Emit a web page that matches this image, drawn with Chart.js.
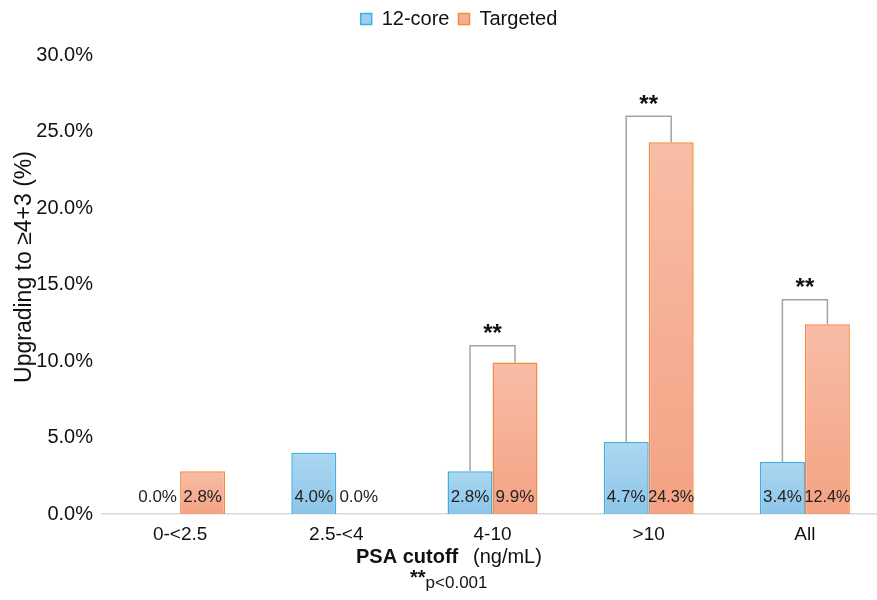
<!DOCTYPE html>
<html lang="en">
<head>
<meta charset="UTF-8">
<title>Upgrading by PSA cutoff</title>
<script src="https://cdn.jsdelivr.net/npm/chart.js"></script>
<style>
  body { margin: 0; background: #fff; overflow: hidden; }
  #wrap { width: 883px; height: 600px; }
</style>
</head>
<body>
<div id="wrap"><canvas id="bar-chart"></canvas></div>
<script>
  // data
  const categories = ['0-<2.5', '2.5-<4', '4-10', '>10', 'All'];
  const core12 = [0.0, 4.0, 2.8, 4.7, 3.4];
  const targeted = [2.8, 0.0, 9.9, 24.3, 12.4];
  // significance brackets: category index and bracket height (%)
  const bracketCats = [2, 3, 4];
  const bracketTops = [11.0, 26.0, 14.0];
  const yTicks = [0, 5, 10, 15, 20, 25, 30];

  const FONT = '"Liberation Sans", Arial, Helvetica, sans-serif';

  // vertical gradient over each bar
  function gradient(ctx, top, bottom) {
    const chart = ctx.chart;
    const y = chart.scales.y;
    if (!chart.chartArea || !y || ctx.raw === undefined) return bottom;
    const yTop = y.getPixelForValue(ctx.raw);
    const yBot = y.getPixelForValue(0);
    if (yBot - yTop < 1) return bottom;
    const g = chart.ctx.createLinearGradient(0, yTop, 0, yBot);
    g.addColorStop(0, top);
    g.addColorStop(1, bottom);
    return g;
  }

  const extras = {
    id: 'extras',
    beforeLayout(chart) {
      // reserve a fixed band for the legend above the plot
      const lg = chart.legend;
      if (lg && !lg._tall) {
        const fit = lg.fit;
        lg.fit = function () { fit.call(this); this.height = 55; };
        lg._tall = true;
      }
    },
    afterDatasetsDraw(chart) {
      const ctx = chart.ctx;
      const y = chart.scales.y;
      const m0 = chart.getDatasetMeta(0).data;
      const m1 = chart.getDatasetMeta(1).data;

      // value labels at the bottom of each bar
      ctx.save();
      ctx.fillStyle = '#222';
      ctx.font = '17px ' + FONT;
      ctx.textAlign = 'center';
      ctx.textBaseline = 'middle';
      [[m0, core12], [m1, targeted]].forEach(([bars, vals]) => {
        bars.forEach((b, i) => {
          ctx.fillText(vals[i].toFixed(1) + '%', b.x, y.bottom - 17, b.width + 1);
        });
      });

      // brackets with **
      ctx.strokeStyle = '#a3a3a3';
      ctx.lineWidth = 1.5;
      bracketCats.forEach((c, k) => {
        const x1 = m0[c].x, x2 = m1[c].x;
        const yt = y.getPixelForValue(bracketTops[k]);
        ctx.beginPath();
        ctx.moveTo(x1, y.getPixelForValue(core12[c]));
        ctx.lineTo(x1, yt);
        ctx.lineTo(x2, yt);
        ctx.lineTo(x2, y.getPixelForValue(targeted[c]));
        ctx.stroke();
        ctx.font = 'bold 24px ' + FONT;
        ctx.fillStyle = '#111';
        ctx.fillText('**', (x1 + x2) / 2, yt - 11);
      });
      ctx.restore();
    },
    afterDraw(chart) {
      const ctx = chart.ctx;
      ctx.save();
      ctx.fillStyle = '#111';
      // y title
      ctx.translate(25, 267);
      ctx.rotate(-Math.PI / 2);
      ctx.font = '23px ' + FONT;
      ctx.textAlign = 'center';
      ctx.textBaseline = 'middle';
      ctx.fillText('Upgrading to \u22654+3 (%)', 0, 0);
      ctx.restore();

      // x title, mixed weight
      ctx.save();
      ctx.fillStyle = '#111';
      ctx.textBaseline = 'middle';
      ctx.textAlign = 'left';
      const a = 'PSA cutoff', b = '(ng/mL)';
      ctx.font = 'bold 20px ' + FONT;
      let x = 356;
      ctx.fillText(a, x, 557);
      ctx.font = '20px ' + FONT;
      ctx.fillText(b, 473, 557);

      // footnote
      const s = '**', p = 'p<0.001';
      ctx.font = 'bold 20px ' + FONT;
      const ws = ctx.measureText(s).width;
      x = 410;
      ctx.fillText(s, x, 578);
      ctx.font = '17px ' + FONT;
      ctx.fillText(p, x + ws, 583);
      ctx.restore();
    }
  };

  new Chart(document.getElementById('bar-chart').getContext('2d'), {
    type: 'bar',
    data: {
      labels: categories,
      datasets: [{
        label: '12-core',
        data: core12,
        backgroundColor: c => gradient(c, '#acd7f1', '#8dc5e8'),
        borderColor: '#3bb0e3',
        borderWidth: 1.5,
        categoryPercentage: 0.576,
        barPercentage: 1.0
      }, {
        label: 'Targeted',
        data: targeted,
        backgroundColor: c => gradient(c, '#f8bda6', '#f4a283'),
        borderColor: '#f7883f',
        borderWidth: 1.5,
        categoryPercentage: 0.576,
        barPercentage: 1.0
      }]
    },
    options: {
      responsive: true,
      maintainAspectRatio: false,
      animation: false,
      layout: { padding: { left: 35, right: 0, top: 0, bottom: 0 } },
      plugins: {
        legend: {
          position: 'top',
          labels: {
            color: '#111',
            font: { family: FONT, size: 20 },
            boxWidth: 11,
            boxHeight: 11,
            padding: 9,
            generateLabels(chart) {
              return chart.data.datasets.map((d, i) => ({
                text: d.label,
                fillStyle: i === 0 ? '#9dcfee' : '#f6ae92',
                strokeStyle: d.borderColor,
                lineWidth: 1.5,
                datasetIndex: i,
                fontColor: '#111'
              }));
            }
          }
        },
        tooltip: { enabled: false }
      },
      scales: {
        x: {
          grid: { display: false, drawTicks: false },
          border: { display: true, color: '#d9d9d9', width: 1.5 },
          ticks: { color: '#111', font: { family: FONT, size: 19 }, padding: 9 },
          afterFit: s => { s.height = 86; }
        },
        y: {
          min: 0,
          max: 30,
          afterBuildTicks: s => { s.ticks = yTicks.map(v => ({ value: v })); },
          grid: { display: false, drawTicks: false },
          border: { display: false },
          ticks: {
            color: '#111',
            font: { family: FONT, size: 20 },
            padding: 9,
            callback: v => v.toFixed(1) + '%'
          },
          afterFit: s => { s.width = 67; }
        }
      }
    },
    plugins: [extras]
  });
</script>
</body>
</html>
